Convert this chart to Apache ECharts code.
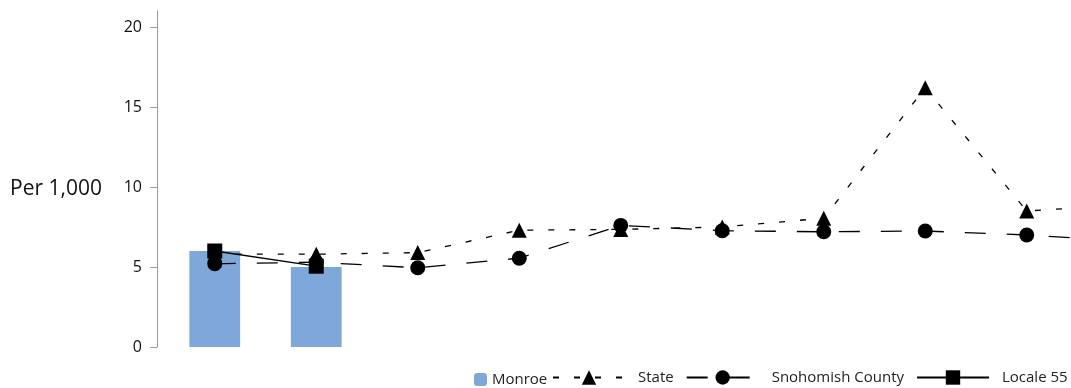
<!DOCTYPE html>
<html>
<head>
<meta charset="utf-8">
<script src="https://cdn.jsdelivr.net/npm/echarts@6/dist/echarts.min.js"></script>
<style>
  html, body { margin: 0; padding: 0; background: #fff; }
  #main { width: 1071px; height: 388px; }
</style>
</head>
<body>
<div id="main"></div>
<script>
// categories (no labels shown in the chart)
var categories = ['1', '2', '3', '4', '5', '6', '7', '8', '9', '10'];
var yTicks = [0, 5, 10, 15, 20];

// series values, per 1,000
var monroe = [6.0, 5.0];
var state = [5.8, 5.8, 5.9, 7.3, 7.35, 7.5, 8.05, 16.2, 8.5, 8.9];
var snohomish = [5.2, 5.3, 4.95, 5.55, 7.6, 7.27, 7.2, 7.25, 7.0, 6.6];
var locale55 = [6.0, 5.05];

var font = '"Open Sans", "Noto Sans", sans-serif';
var chart = echarts.init(document.getElementById('main'));

chart.setOption({
    animation: false,
    textStyle: { fontFamily: font },
    // the plot runs past the right edge of the picture
    grid: { left: 164, top: 11, width: 1015, height: 336, outerBoundsMode: 'none' },
    xAxis: {
        type: 'category',
        data: categories,
        axisLine: { show: false },
        axisTick: { show: false },
        axisLabel: { show: false }
    },
    yAxis: {
        type: 'value',
        min: 0,
        max: 21,
        interval: 5,
        offset: 7,
        name: 'Per 1,000',
        nameLocation: 'middle',
        nameRotate: 0,
        nameGap: 55,
        nameTextStyle: { fontSize: 21, color: '#111', verticalAlign: 'top' },
        splitLine: { show: false },
        axisLine: { show: true, lineStyle: { color: '#999', width: 1 } },
        axisTick: { show: true, length: 7, customValues: yTicks, lineStyle: { color: '#999' } },
        axisLabel: { fontSize: 16, color: '#111', margin: 15, customValues: yTicks }
    },
    legend: [
        {
            data: ['Monroe'],
            left: 474,
            top: 372,
            padding: 0,
            itemWidth: 13,
            itemHeight: 13,
            textStyle: { fontSize: 15, color: '#222' }
        },
        {
            data: ['State', 'Snohomish County', 'Locale 55'],
            left: 552,
            top: 370,
            width: 600,
            padding: 0,
            itemWidth: 72,
            itemHeight: 18,
            itemGap: 12,
            textStyle: { fontSize: 15, color: '#222', padding: [0, 0, 0, 8] }
        }
    ],
    series: [
        {
            name: 'Monroe',
            type: 'bar',
            data: monroe,
            barWidth: '50%',
            itemStyle: { color: '#7FA7D9' }
        },
        {
            name: 'State',
            type: 'line',
            data: state,
            symbol: 'triangle',
            symbolSize: 15,
            showSymbol: true,
            itemStyle: { color: '#000' },
            lineStyle: { color: '#000', width: 1.3, type: [6, 15] }
        },
        {
            name: 'Snohomish County',
            type: 'line',
            data: snohomish,
            symbol: 'circle',
            symbolSize: 15,
            showSymbol: true,
            itemStyle: { color: '#000' },
            lineStyle: { color: '#000', width: 1.3, type: [21, 21] }
        },
        {
            name: 'Locale 55',
            type: 'line',
            data: locale55,
            symbol: 'rect',
            symbolSize: 15,
            showSymbol: true,
            itemStyle: { color: '#000' },
            lineStyle: { color: '#000', width: 1.3 }
        }
    ]
});
</script>
</body>
</html>
